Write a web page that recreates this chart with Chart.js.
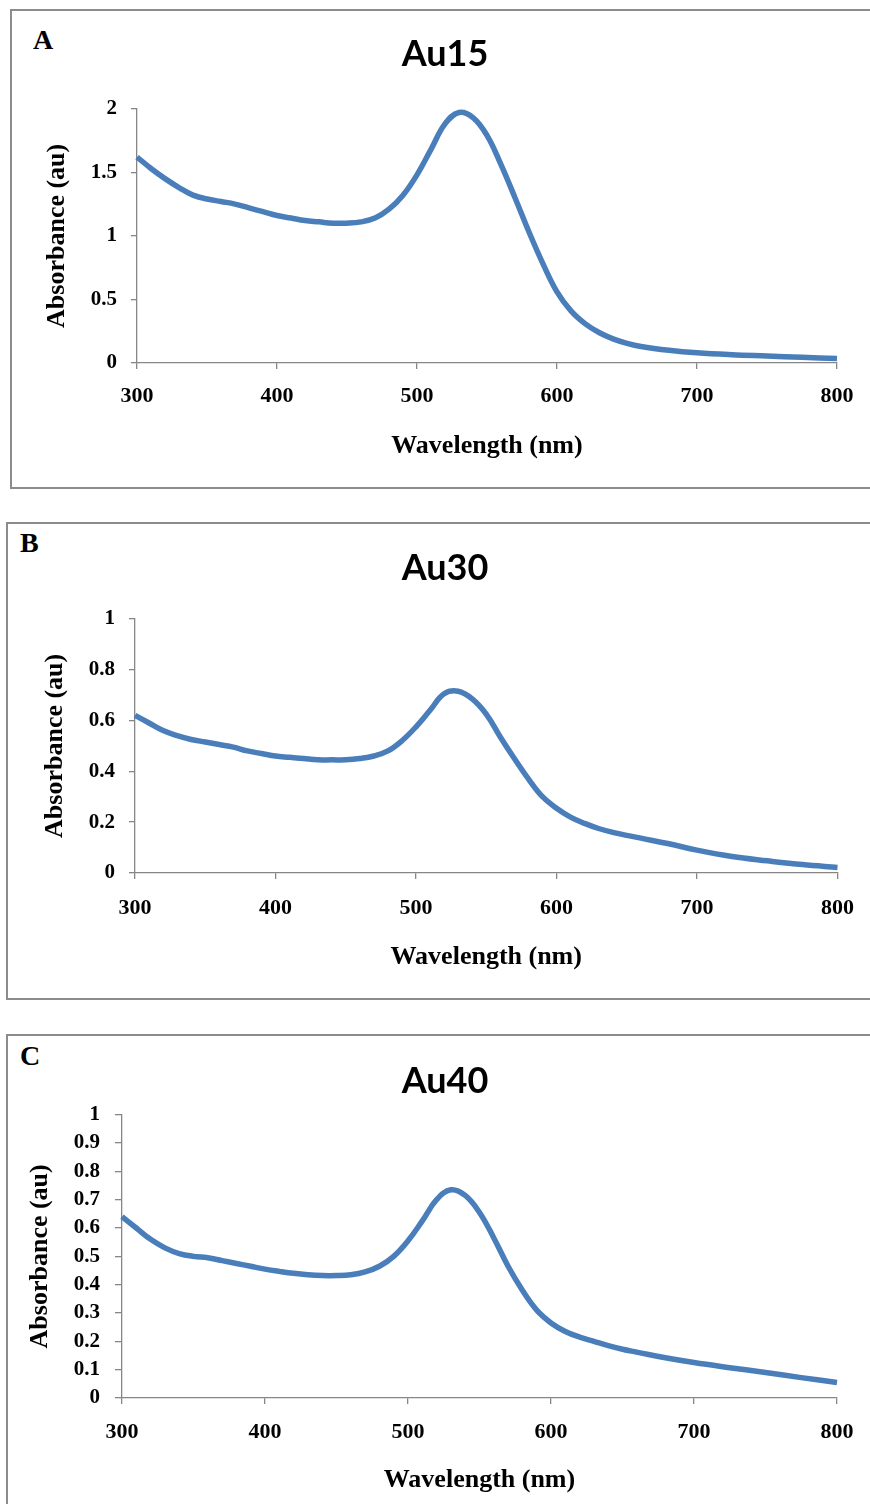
<!DOCTYPE html>
<html><head><meta charset="utf-8">
<script src="https://cdn.jsdelivr.net/npm/chart.js@4.4.1/dist/chart.umd.min.js"></script>
<style>
html,body{margin:0;padding:0;background:#fff;width:870px;height:1504px;overflow:hidden;position:relative}
.box{position:absolute;border:2px solid #8c8c8c;box-sizing:border-box}
.letter{position:absolute;font-family:'Liberation Serif','Times New Roman',serif;font-weight:bold;font-size:28px;line-height:1;color:#000}
canvas{position:absolute;left:0}
</style></head><body>
<div class="box" style="left:10px;top:9px;width:880px;height:480px"></div>
<div class="box" style="left:6px;top:522px;width:884px;height:478px"></div>
<div class="box" style="left:6px;top:1034px;width:884px;height:500px"></div>
<div class="letter" style="left:33px;top:26px">A</div>
<div class="letter" style="left:20px;top:529px">B</div>
<div class="letter" style="left:20px;top:1042px">C</div>
<canvas id="cA" width="870" height="489" style="top:0px"></canvas>
<canvas id="cB" width="870" height="500" style="top:500px"></canvas>
<canvas id="cC" width="870" height="494" style="top:1010px"></canvas>
<script>
const wavelengths = [300,310,320,330,340,350,360,370,380,390,400,410,420,430,440,450,460,470,480,490,500,510,520,530,540,550,560,570,580,590,600,610,620,630,640,650,660,680,700,725,750,775,800];
const au15 = [1.62,1.53,1.45,1.38,1.32,1.29,1.27,1.25,1.22,1.19,1.16,1.14,1.12,1.11,1.10,1.10,1.11,1.14,1.21,1.32,1.48,1.68,1.88,1.97,1.93,1.79,1.56,1.30,1.03,0.78,0.56,0.41,0.31,0.24,0.19,0.155,0.13,0.10,0.08,0.065,0.055,0.045,0.035];
const au30 = [0.62,0.59,0.56,0.54,0.525,0.515,0.505,0.495,0.48,0.47,0.46,0.455,0.45,0.445,0.445,0.445,0.45,0.46,0.48,0.52,0.575,0.64,0.705,0.715,0.685,0.625,0.535,0.45,0.37,0.30,0.255,0.22,0.195,0.175,0.16,0.148,0.137,0.115,0.09,0.065,0.048,0.033,0.022];
const au40 = [0.64,0.60,0.56,0.53,0.51,0.50,0.495,0.485,0.475,0.465,0.455,0.447,0.44,0.435,0.432,0.432,0.435,0.445,0.465,0.50,0.555,0.625,0.70,0.735,0.715,0.655,0.565,0.465,0.38,0.31,0.265,0.235,0.215,0.20,0.185,0.172,0.162,0.142,0.125,0.107,0.09,0.072,0.055];
const xTickValues = [300,400,500,600,700,800];
const xTickLabels = ['300','400','500','600','700','800'];
const yTickValuesA = [0,0.5,1,1.5,2];
const yTickLabelsA = ['0','0.5','1','1.5','2'];
const yTickValuesB = [0,0.2,0.4,0.6,0.8,1];
const yTickLabelsB = ['0','0.2','0.4','0.6','0.8','1'];
const yTickValuesC = [0,0.1,0.2,0.3,0.4,0.5,0.6,0.7,0.8,0.9,1];
const yTickLabelsC = ['0','0.1','0.2','0.3','0.4','0.5','0.6','0.7','0.8','0.9','1'];
const titles = ['Au15','Au30','Au40'];
const xTitle = 'Wavelength (nm)';
const yTitle = 'Absorbance (au)';

const serif = "'Liberation Serif','Times New Roman',serif";
const axisGray = '#868686';
const lineBlue = '#4a7ebb';

function makePanel(id, title, values, yVals, yLabels, L) {
  const pts = wavelengths.map((w,i)=>({x:w,y:values[i]}));
  new Chart(document.getElementById(id), {
    type:'line',
    data:{datasets:[{data:pts,borderColor:lineBlue,borderWidth:5.5,pointRadius:0,tension:0.4,fill:false,clip:false,borderCapStyle:'butt'}]},
    options:{
      responsive:false, animation:false, devicePixelRatio:1,
      layout:{padding:{left:L.padL,right:L.padR,top:0,bottom:0}},
      plugins:{
        legend:{display:false}, tooltip:{enabled:false},
        title:{display:true,text:title,color:'#000',font:{family:"Lato, 'Open Sans', sans-serif",weight:'bold',size:36,lineHeight:1.2},padding:{top:L.tPadT,bottom:L.tPadB}}
      },
      scales:{
        x:{type:'linear',min:300,max:800,
          afterBuildTicks:s=>{s.ticks=xTickValues.map(v=>({value:v}));},
          afterFit:s=>{s.height=L.hx;},
          ticks:{callback:(v,i)=>xTickLabels[i],color:'#000',padding:L.xTickPad,maxRotation:0,font:{family:serif,weight:'bold',size:22,lineHeight:1.2}},
          grid:{display:true,drawOnChartArea:false,drawTicks:true,tickLength:6,color:axisGray,tickColor:axisGray,lineWidth:1.3},
          border:{display:true,color:axisGray,width:1.3},
          title:{display:true,text:xTitle,color:'#000',font:{family:serif,weight:'bold',size:26,lineHeight:1.2},padding:{top:0,bottom:L.xTitlePad}}
        },
        y:{type:'linear',min:0,max:yVals[yVals.length-1],
          afterBuildTicks:s=>{s.ticks=yVals.map(v=>({value:v}));},
          afterFit:s=>{s.width=L.wy;},
          ticks:{callback:(v,i)=>yLabels[i],color:'#000',padding:L.yTickPad,font:{family:serif,weight:'bold',size:21,lineHeight:1.2}},
          grid:{display:true,drawOnChartArea:false,drawTicks:true,tickLength:L.yTickLen,color:axisGray,tickColor:axisGray,lineWidth:1.3},
          border:{display:true,color:axisGray,width:1.3},
          title:{display:true,text:yTitle,color:'#000',font:{family:serif,weight:'bold',size:26,lineHeight:1.2},padding:{top:L.yTitlePad,bottom:0}}
        }
      }
    }
  });
}

makePanel('cA', titles[0], au15, yTickValuesA, yTickLabelsA,
  {padL:53,padR:33,wy:84,hx:126,tPadT:33,tPadB:32.5,yTitlePad:-11,yTickPad:14,yTickLen:6,xTickPad:14,xTitlePad:27.4});
makePanel('cB', titles[1], au30, yTickValuesB, yTickLabelsB,
  {padL:51,padR:31,wy:84,hx:127,tPadT:46.5,tPadB:29,yTitlePad:-11.6,yTickPad:14,yTickLen:6,xTickPad:16,xTitlePad:27.4});
makePanel('cC', titles[2], au40, yTickValuesC, yTickLabelsC,
  {padL:53,padR:33,wy:69,hx:106,tPadT:49.5,tPadB:12,yTitlePad:-28.6,yTickPad:15,yTickLen:7,xTickPad:15,xTitlePad:8.4});
</script>
</body></html>
